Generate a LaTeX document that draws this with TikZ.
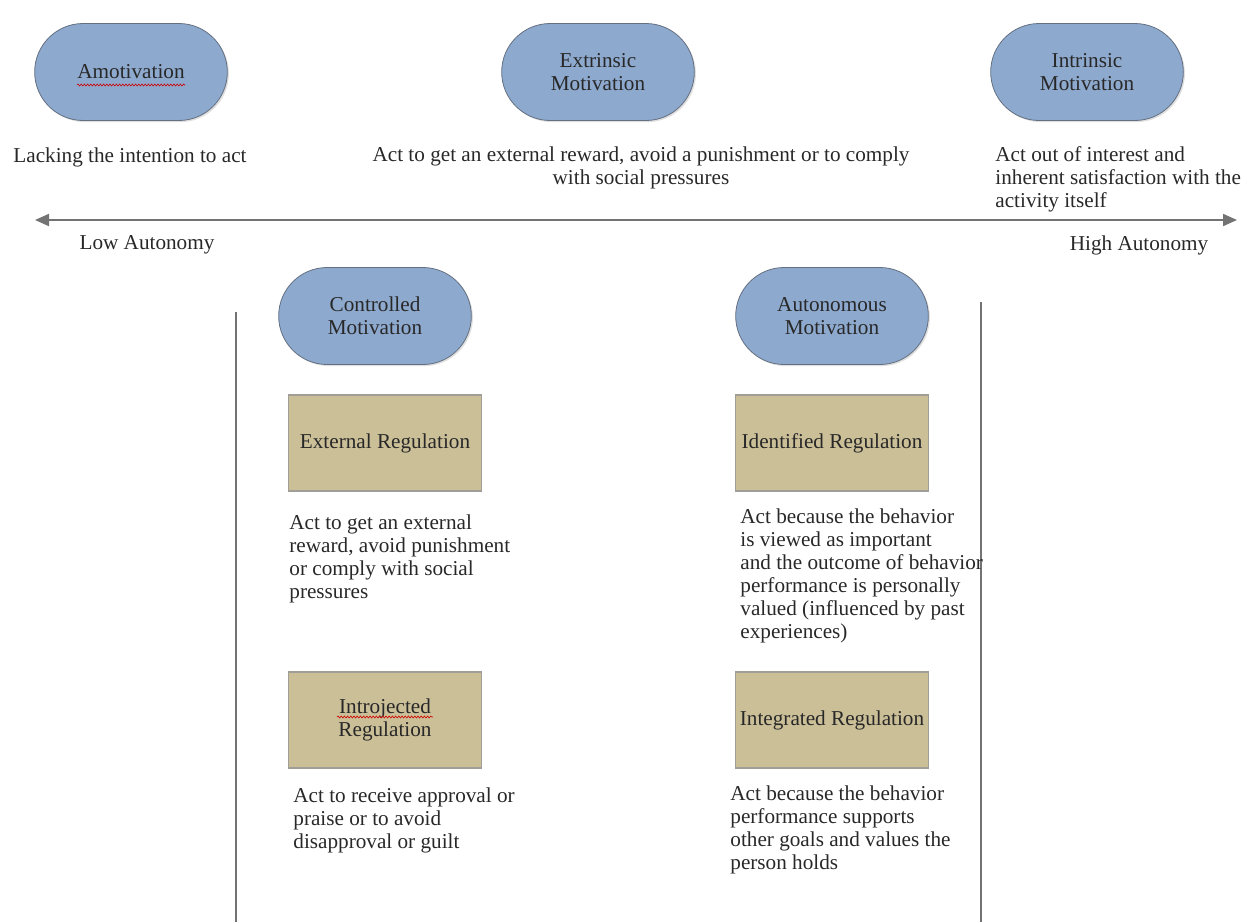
\documentclass[tikz,border=0pt]{standalone}
\usepackage{fontspec}
\setmainfont{Liberation Serif}
\usepackage{tikz}
\usetikzlibrary{arrows.meta, positioning, shapes.misc, shadows, decorations.pathmorphing}
\definecolor{pillblue}{RGB}{141,169,206}
\definecolor{pillline}{RGB}{100,112,130}
\definecolor{regtan}{RGB}{203,191,152}
\definecolor{regline}{RGB}{160,158,150}
\definecolor{inkgray}{RGB}{40,40,40}
\definecolor{axisgray}{RGB}{115,115,115}

\begin{document}
\begin{tikzpicture}[x=0.5pt, y=-0.5pt,
            every node/.style={font=\rmfamily\fontsize{10.6}{11.5}\selectfont, text=inkgray},
            pill/.style={rounded rectangle, draw=pillline, fill=pillblue, minimum width=103pt, minimum height=48.5pt, align=center,
                drop shadow={shadow xshift=0.8pt, shadow yshift=-0.8pt, opacity=0.25}},
            regbox/.style={rectangle, draw=regline, line width=0.8pt, fill=regtan, minimum width=96.5pt, minimum height=48pt, inner xsep=1.5pt, align=center},
            desc/.style={align=left, inner sep=0pt},
            axis/.style={draw=axisgray, fill=axisgray, line width=1pt, {Triangle[length=7pt,width=6pt]}-{Triangle[length=7pt,width=6pt]}},
            divider/.style={draw=axisgray, line width=1pt},
            squiggle/.style={draw=red!80!black, line width=0.3pt, decorate, decoration={snake, amplitude=0.5pt, segment length=1.6pt}}]
            \useasboundingbox (0,0) rectangle (1252,922);
            \node[pill] (amot) at (131,72) {Amotivation};
            \node[pill] (extr) at (598,72) {Extrinsic\\Motivation};
            \node[pill] (intr) at (1087,72) {Intrinsic\\Motivation};
            \node[desc, anchor=west] (amotdesc) at (13,157) {Lacking the intention to act};
            \node[desc, anchor=north, align=center] (extrdesc) at (641,146) {Act to get an external reward, avoid a punishment or to comply\\with social pressures};
            \node[desc, anchor=north west] (intrdesc) at (995,146) {Act out of interest and\\inherent satisfaction with the\\activity itself};
            \coordinate (lowend) at (35,220);
            \coordinate (highend) at (1237,220);
            \draw[axis] (lowend) -- (highend);
            \node (lowtxt) at (147,245) {Low Autonomy};
            \node (hightxt) at (1139,245) {High Autonomy};
            \coordinate (ctrltop) at (236,312);
            \coordinate (ctrlbot) at (236,922);
            \coordinate (autotop) at (981,302);
            \coordinate (autobot) at (981,922);
            \draw[divider] (ctrltop) -- (ctrlbot);
            \draw[divider] (autotop) -- (autobot);
            \node[pill] (ctrl) at (375,316) {Controlled\\Motivation};
            \node[pill] (auto) at (832,316) {Autonomous\\Motivation};
            \node[regbox] (extreg) at (385,443) {External Regulation};
            \node[regbox] (idreg) at (832,443) {Identified Regulation};
            \node[regbox] (introreg) at (385,720) {Introjected\\Regulation};
            \node[regbox] (intreg) at (832,720) {Integrated Regulation};
            \node[desc, anchor=north west] (extdesc) at (289,514) {Act to get an external\\reward, avoid punishment\\or comply with social\\pressures};
            \node[desc, anchor=north west] (iddesc) at (740,508) {Act because the behavior\\is viewed as important\\and the outcome of behavior\\performance is personally\\valued (influenced by past\\experiences)};
            \node[desc, anchor=north west] (introdesc) at (293,787) {Act to receive approval or\\praise or to avoid\\disapproval or guilt};
            \node[desc, anchor=north west] (intdesc) at (730,785) {Act because the behavior\\performance supports\\other goals and values the\\person holds};
            \draw[squiggle] ([xshift=-27pt, yshift=-6.5pt]amot.center) -- ([xshift=27pt, yshift=-6.5pt]amot.center);
            \draw[squiggle] ([xshift=-24pt, yshift=1.5pt]introreg.center) -- ([xshift=24pt, yshift=1.5pt]introreg.center);
        \end{tikzpicture}
\end{document}
